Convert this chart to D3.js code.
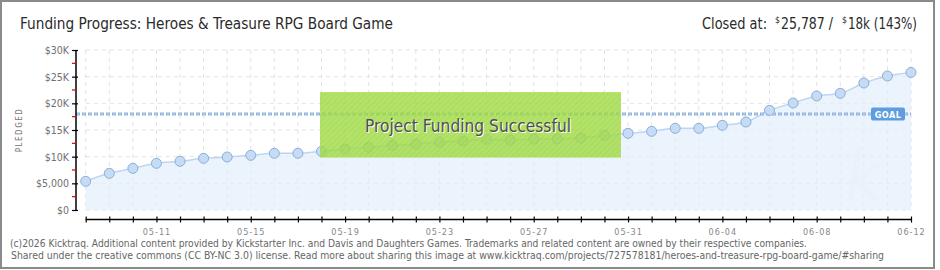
<!DOCTYPE html>
<html>
<head>
<meta charset="utf-8">
<script src="https://cdn.jsdelivr.net/npm/d3@7"></script>
<style>
body{margin:0;background:#fff;}
svg{display:block;}
text{font-family:"DejaVu Sans Condensed","DejaVu Sans",sans-serif;}
</style>
</head>
<body>
<div id="chart"></div>
<script>
// pledged totals per day, in dollars
var dates=["05-08","05-09","05-10","05-11","05-12","05-13","05-14","05-15","05-16","05-17","05-18","05-19",
  "05-20","05-21","05-22","05-23","05-24","05-25","05-26","05-27","05-28","05-29","05-30","05-31",
  "06-01","06-02","06-03","06-04","06-05","06-06","06-07","06-08","06-09","06-10","06-11","06-12"];
var pledged=[5380,6880,7810,8750,9130,9690,9940,10250,10630,10630,11000,11440,
  11750,12130,12380,12750,12940,13250,13130,13310,13310,13500,14000,14380,
  14750,15310,15310,15880,16500,18690,20060,21380,21880,23810,25130,25787];
var goal=18000;
var yTicks=[0,5000,10000,15000,20000,25000,30000];
var yTickLabels=["$0","$5,000","$10K","$15K","$20K","$25K","$30K"];
var xLabelEvery=4;

var W=940,H=270;
var svg=d3.select("#chart").append("svg").attr("width",W).attr("height",H);

var x=d3.scalePoint().domain(dates).range([85.7,911]);
var y=d3.scaleLinear().domain([0,30000]).range([210,50]);

// frame
svg.append("rect").attr("x",1).attr("y",1).attr("width",933).attr("height",267)
  .attr("fill","none").attr("stroke","#8a8a8a").attr("stroke-width",2);

// titles
svg.append("text").attr("x",20).attr("y",29).attr("font-size",16).attr("fill","#2a2a2a")
  .attr("textLength",373).attr("lengthAdjust","spacingAndGlyphs")
  .text("Funding Progress: Heroes & Treasure RPG Board Game");
var closedParts=[
  {t:"Closed at:",x:702,w:65,sup:false},
  {t:"$",x:775,w:5,sup:true},
  {t:"25,787 /",x:781,w:52,sup:false},
  {t:"$",x:842,w:5,sup:true},
  {t:"18k (143%)",x:848,w:69,sup:false}
];
svg.selectAll(".closed").data(closedParts).join("text").attr("class","closed")
  .attr("x",d=>d.x).attr("y",d=>d.sup?23:29).attr("font-size",d=>d.sup?9:16).attr("fill","#2a2a2a")
  .attr("textLength",d=>d.w).attr("lengthAdjust","spacingAndGlyphs").text(d=>d.t);

// grid
var grid=svg.append("g").attr("stroke","#e2e2e2").attr("stroke-dasharray","4,4");
grid.selectAll(".gx").data(dates).join("line")
  .attr("x1",d=>x(d)).attr("x2",d=>x(d)).attr("y1",y(30000)).attr("y2",y(0));
grid.selectAll(".gy").data(yTicks).join("line")
  .attr("x1",x(dates[0])).attr("x2",x(dates[dates.length-1])).attr("y1",d=>y(d)).attr("y2",d=>y(d));

// area + line
var area=d3.area().x((d,i)=>x(dates[i])).y0(y(0)).y1(d=>y(d)).curve(d3.curveMonotoneX);
var line=d3.line().x((d,i)=>x(dates[i])).y(d=>y(d)).curve(d3.curveMonotoneX);
svg.append("path").datum(pledged).attr("d",area).attr("fill","#e3eefb").attr("fill-opacity",0.7);

// faint watermark
svg.append("text").attr("x",845).attr("y",200).attr("font-size",70).attr("font-style","italic")
  .attr("fill","#eaf1fa").attr("font-family","DejaVu Serif").text("k");

svg.append("path").datum(pledged).attr("d",line).attr("fill","none").attr("stroke","#bcd6f2").attr("stroke-width",1.5);

// goal line
svg.append("line").attr("x1",76).attr("x2",911).attr("y1",y(goal)).attr("y2",y(goal))
  .attr("stroke","#8fb3de").attr("stroke-width",3).attr("stroke-dasharray","4,2");
svg.append("line").attr("x1",76).attr("x2",911).attr("y1",y(goal)).attr("y2",y(goal))
  .attr("stroke","#c9dcf2").attr("stroke-width",1).attr("stroke-dasharray","2,4").attr("stroke-dashoffset",-1);

// points
svg.selectAll(".pt").data(pledged).join("circle")
  .attr("cx",(d,i)=>x(dates[i])).attr("cy",d=>y(d)).attr("r",5)
  .attr("fill","#c4dcf6").attr("stroke","#8fadd2").attr("stroke-width",1);

// goal tag
var gy=y(goal);
svg.append("rect").attr("x",871).attr("y",gy-6.5).attr("width",34).attr("height",13).attr("rx",2)
  .attr("fill","#5e9ee0");
svg.append("text").attr("x",888).attr("y",gy+3.5).attr("text-anchor","middle").attr("font-size",9)
  .attr("fill","#fff").attr("font-weight","bold").attr("letter-spacing",0.5).text("GOAL");

// success banner
var defs=svg.append("defs");
var pat=defs.append("pattern").attr("id","hatch").attr("patternUnits","userSpaceOnUse")
  .attr("width",4).attr("height",4).attr("patternTransform","rotate(45)");
pat.append("rect").attr("width",4).attr("height",4).attr("fill","#a2dc48");
pat.append("line").attr("x1",0).attr("y1",0).attr("x2",0).attr("y2",4).attr("stroke","#9ad23f").attr("stroke-width",2);
svg.append("rect").attr("x",320).attr("y",92).attr("width",301).attr("height",66)
  .attr("fill","url(#hatch)").attr("fill-opacity",0.82);
svg.append("line").attr("x1",320).attr("x2",621).attr("y1",92.5).attr("y2",92.5).attr("stroke","#b8e46a");
svg.append("line").attr("x1",320).attr("x2",621).attr("y1",157.5).attr("y2",157.5).attr("stroke","#c9e89a");
svg.append("text").attr("x",469).attr("y",133).attr("text-anchor","middle").attr("font-size",17)
  .attr("fill","#fff").attr("textLength",206).attr("lengthAdjust","spacingAndGlyphs").text("Project Funding Successful");
svg.append("text").attr("x",468).attr("y",132).attr("text-anchor","middle").attr("font-size",17)
  .attr("fill","#4f4f4f").attr("textLength",206).attr("lengthAdjust","spacingAndGlyphs").text("Project Funding Successful");

// y axis
var yAxis=d3.axisLeft(y).tickValues(yTicks).tickFormat((d,i)=>yTickLabels[i]).tickSize(3).tickPadding(4);
var ya=svg.append("g").attr("transform","translate(76,0)").call(yAxis);
ya.select(".domain").attr("stroke","#000").attr("stroke-width",1.5).attr("d","M0,"+y(30000)+"V"+y(0));
ya.selectAll(".tick line").attr("x1",-4).attr("x2",2).attr("stroke","#000").attr("stroke-width",1.2);
ya.selectAll(".tick text").attr("font-size",10.5).attr("fill","#707070");
var minor=d3.range(2500,30000,5000);
ya.selectAll(".minor").data(minor).join("line").attr("class","minor")
  .attr("x1",-4).attr("x2",0).attr("y1",d=>y(d)).attr("y2",d=>y(d)).attr("stroke","#e00000").attr("stroke-width",1.2);

svg.append("text").attr("transform","translate(22,130) rotate(-90)").attr("text-anchor","middle")
  .attr("font-size",8).attr("fill","#777").attr("letter-spacing",1.5).text("PLEDGED");

// x axis
var xAxis=d3.axisBottom(x).tickSize(3).tickPadding(6)
  .tickFormat((d,i)=>(i+1)%xLabelEvery===0?d:"");
var xa=svg.append("g").attr("transform","translate(0,219.5)").call(xAxis);
xa.select(".domain").attr("stroke","#000").attr("stroke-width",1.5).attr("d","M"+x(dates[0])+",0H"+x(dates[dates.length-1]));
xa.selectAll(".tick line").attr("y1",-3).attr("y2",3).attr("stroke","#000").attr("stroke-width",1.2);
xa.selectAll(".tick text").attr("font-size",9).attr("fill","#888").attr("letter-spacing",1);

// footer
svg.append("text").attr("x",10).attr("y",247).attr("font-size",10).attr("fill","#666")
  .attr("font-family","DejaVu Sans").attr("textLength",797).attr("lengthAdjust","spacingAndGlyphs")
  .text("(c)2026 Kicktraq. Additional content provided by Kickstarter Inc. and Davis and Daughters Games. Trademarks and related content are owned by their respective companies.");
svg.append("text").attr("x",11).attr("y",259).attr("font-size",10).attr("fill","#666")
  .attr("font-family","DejaVu Sans").attr("textLength",873).attr("lengthAdjust","spacingAndGlyphs")
  .text("Shared under the creative commons (CC BY-NC 3.0) license. Read more about sharing this image at www.kicktraq.com/projects/727578181/heroes-and-treasure-rpg-board-game/#sharing");
</script>
</body>
</html>
